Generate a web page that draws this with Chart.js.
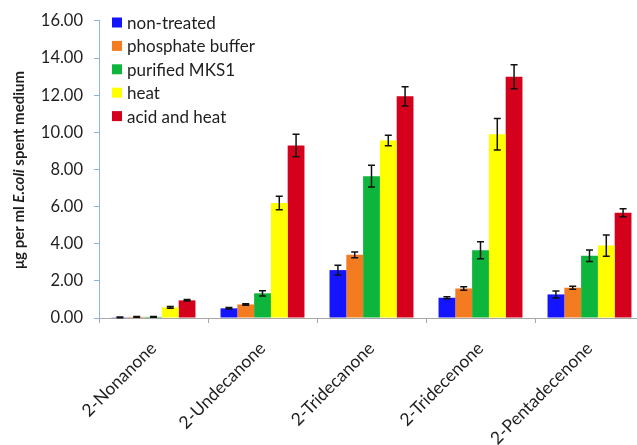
<!DOCTYPE html>
<html>
<head>
<meta charset="utf-8">
<script src="https://cdn.jsdelivr.net/npm/chart.js@4/dist/chart.umd.min.js"></script>
<style>
  html, body { margin: 0; padding: 0; background: #fff; overflow: hidden; }
  #wrap { width: 646px; height: 445px; }
</style>
</head>
<body>
<div id="wrap"><canvas id="myChart" width="646" height="445"></canvas></div>
<script>
let compounds = ['2-Nonanone', '2-Undecanone', '2-Tridecanone', '2-Tridecenone', '2-Pentadecenone'];
let treatments = ['non-treated', 'phosphate buffer', 'purified MKS1', 'heat', 'acid and heat'];
let colors = ['#1414ff', '#f47c20', '#0db53c', '#ffff00', '#d5001c'];

// mean amounts, µg per ml
let nonTreated = [0.04, 0.52, 2.58, 1.09, 1.27];
let phosphate = [0.06, 0.73, 3.40, 1.59, 1.63];
let mks1 = [0.06, 1.33, 7.64, 3.65, 3.35];
let heat = [0.57, 6.19, 9.56, 9.90, 3.90];
let acidHeat = [0.95, 9.29, 11.94, 12.99, 5.67];

// standard deviations
let nonTreatedErr = [0.02, 0.04, 0.26, 0.06, 0.19];
let phosphateErr = [0.02, 0.04, 0.15, 0.09, 0.08];
let mks1Err = [0.02, 0.14, 0.58, 0.46, 0.31];
let heatErr = [0.05, 0.36, 0.28, 0.85, 0.57];
let acidHeatErr = [0.04, 0.60, 0.52, 0.65, 0.22];

let yTicks = [0, 2, 4, 6, 8, 10, 12, 14, 16];

let values = [nonTreated, phosphate, mks1, heat, acidHeat];
let errors = [nonTreatedErr, phosphateErr, mks1Err, heatErr, acidHeatErr];

let textColor = '#1e1e1e';
let fontName = 'Lato, "Open Sans", sans-serif';

// error bars on top of every bar
let errorBars = {
    id: 'errorBars',
    afterDatasetsDraw(chart) {
        let ctx = chart.ctx;
        let y = chart.scales.y;
        ctx.save();
        ctx.strokeStyle = '#111';
        ctx.lineWidth = 1.5;
        chart.data.datasets.forEach((ds, i) => {
            let meta = chart.getDatasetMeta(i);
            meta.data.forEach((bar, j) => {
                let v = ds.data[j], e = ds.errors[j];
                let top = y.getPixelForValue(v + e);
                let bot = y.getPixelForValue(v - e);
                let x = bar.x;
                ctx.beginPath();
                ctx.moveTo(x, top); ctx.lineTo(x, bot);
                ctx.moveTo(x - 3.5, top); ctx.lineTo(x + 3.5, top);
                ctx.moveTo(x - 3.5, bot); ctx.lineTo(x + 3.5, bot);
                ctx.stroke();
            });
        });
        ctx.restore();
    }
};

// legend inside the plot and the y title with italic species name
let extras = {
    id: 'extras',
    afterDraw(chart) {
        let ctx = chart.ctx;
        ctx.save();
        ctx.font = '17px ' + fontName;
        ctx.textBaseline = 'middle';
        ctx.textAlign = 'left';
        chart.data.datasets.forEach((ds, i) => {
            let cy = 22.5 + i * 23.4;
            ctx.fillStyle = ds.backgroundColor;
            ctx.fillRect(112, cy - 5, 10, 10);
            ctx.fillStyle = textColor;
            ctx.fillText(ds.label, 127, cy + 1);
        });

        let parts = [
            ['bold 15px ' + fontName, 'μg per ml '],
            ['bold italic 15px ' + fontName, 'E.coli'],
            ['bold 15px ' + fontName, ' spent medium']
        ];
        let total = 0;
        parts.forEach(p => { ctx.font = p[0]; total += ctx.measureText(p[1]).width; });
        ctx.translate(19, 170);
        ctx.rotate(-Math.PI / 2);
        let x = -total / 2;
        parts.forEach(p => {
            ctx.font = p[0];
            ctx.fillText(p[1], x, 0);
            x += ctx.measureText(p[1]).width;
        });
        ctx.restore();
    }
};

let myChart = document.getElementById('myChart').getContext('2d');

let chart = new Chart(myChart, {
    type: 'bar',
    data: {
        labels: compounds,
        datasets: treatments.map((t, i) => ({
            label: t,
            data: values[i],
            errors: errors[i],
            backgroundColor: colors[i],
            borderWidth: 0,
            categoryPercentage: 0.77,
            barPercentage: 1.0
        }))
    },
    options: {
        responsive: false,
        animation: false,
        layout: { padding: { top: 20, right: 2, left: 0, bottom: 0 } },
        plugins: {
            legend: { display: false },
            tooltip: { enabled: false }
        },
        scales: {
            x: {
                grid: { offset: true, drawOnChartArea: false, tickLength: 5, color: '#a6a6a6' },
                border: { color: '#a6a6a6', width: 1 },
                ticks: {
                    color: textColor,
                    font: { family: fontName, size: 17.5 },
                    minRotation: 45,
                    maxRotation: 45,
                    padding: 15
                },
                afterFit(scale) { scale.height = 127; }
            },
            y: {
                min: 0,
                max: 16,
                afterBuildTicks(scale) { scale.ticks = yTicks.map(v => ({ value: v })); },
                grid: { drawOnChartArea: false, tickLength: 5, color: '#8db3e2' },
                border: { color: '#8db3e2', width: 1 },
                ticks: {
                    color: textColor,
                    font: { family: fontName, size: 16.5 },
                    padding: 11,
                    callback: v => v.toFixed(2)
                },
                afterFit(scale) { scale.width = 99; }
            }
        }
    },
    plugins: [errorBars, extras]
});
</script>
</body>
</html>
